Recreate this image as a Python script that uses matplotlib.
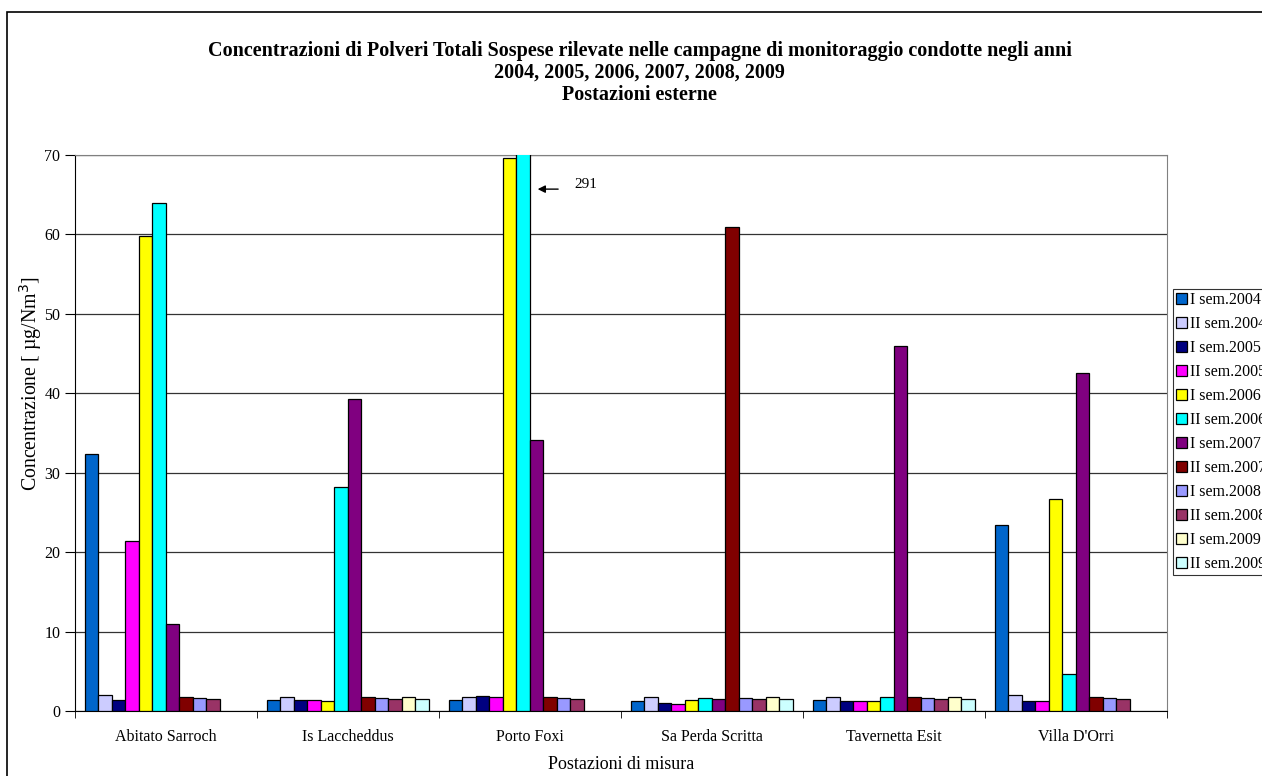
import numpy as np
import matplotlib
matplotlib.use("Agg")
from matplotlib import pyplot as plt
from matplotlib.patches import Rectangle

plt.rcParams['font.family'] = ['Liberation Serif', 'DejaVu Serif']

postazioni = ["Abitato Sarroch", "Is Laccheddus", "Porto Foxi",
              "Sa Perda Scritta", "Tavernetta Esit", "Villa D'Orri"]

campagne = ["I sem.2004", "II sem.2004", "I sem.2005", "II sem.2005",
            "I sem.2006", "II sem.2006", "I sem.2007", "II sem.2007",
            "I sem.2008", "II sem.2008", "I sem.2009", "II sem.2009"]

colori = ["#0066CC", "#CCCCFF", "#000080", "#FF00FF", "#FFFF00", "#00FFFF",
          "#800080", "#800000", "#9999FF", "#993366", "#FFFFCC", "#CCFFFF"]

nan = np.nan
# one list per campaign, values per station (ug/Nm3)
sem1_2004 = [32.4, 1.4, 1.4, 1.2, 1.4, 23.4]
sem2_2004 = [2.0, 1.8, 1.8, 1.8, 1.8, 2.0]
sem1_2005 = [1.4, 1.4, 1.9, 1.0, 1.2, 1.2]
sem2_2005 = [21.4, 1.4, 1.8, 0.9, 1.2, 1.2]
sem1_2006 = [59.8, 1.2, 69.6, 1.4, 1.2, 26.7]
sem2_2006 = [63.9, 28.2, 291, 1.6, 1.7, 4.7]
sem1_2007 = [10.9, 39.3, 34.1, 1.5, 46.0, 42.6]
sem2_2007 = [1.7, 1.7, 1.7, 60.9, 1.8, 1.8]
sem1_2008 = [1.6, 1.6, 1.6, 1.6, 1.6, 1.6]
sem2_2008 = [1.5, 1.5, 1.5, 1.5, 1.5, 1.5]
sem1_2009 = [nan, 1.8, nan, 1.8, 1.8, nan]
sem2_2009 = [nan, 1.5, nan, 1.5, 1.5, nan]

serie = [sem1_2004, sem2_2004, sem1_2005, sem2_2005, sem1_2006, sem2_2006,
         sem1_2007, sem2_2007, sem1_2008, sem2_2008, sem1_2009, sem2_2009]

fig = plt.figure(figsize=(12.62, 7.76), dpi=100)
ax = fig.add_axes([0.0594, 0.0838, 0.8653, 0.7165])

x = np.arange(len(postazioni))
w = 0.89 / len(serie)
for i, valori in enumerate(serie):
    off = (i - (len(serie) - 1) / 2) * w
    ax.bar(x + off, valori, w, color=colori[i], edgecolor='black',
           linewidth=0.9, label=campagne[i], zorder=3)

ax.set_xlim(-0.5, len(postazioni) - 0.5)
ax.set_ylim(0, 70)
ax.set_yticks(range(0, 71, 10))
ax.yaxis.grid(True, color='#333333', linewidth=0.9, zorder=0)
ax.set_xticks(x)
ax.set_xticklabels(postazioni, fontsize=11.5)
ax.tick_params(axis='x', length=0, pad=13)
ax.set_xticks(np.arange(-0.5, len(postazioni)), minor=True)
ax.tick_params(axis='x', which='minor', length=5, direction='out')
ax.tick_params(axis='y', labelsize=11.5, length=7, direction='out')

for s in ['top', 'right']:
    ax.spines[s].set_color('#808080')
for s in ['left', 'bottom']:
    ax.spines[s].set_color('black')

ax.set_ylabel("Concentrazione [ \u00b5g/Nm$^3$]", fontsize=14.3)
ax.yaxis.set_label_coords(-0.0284, 0.588)
ax.set_xlabel("Postazioni di misura", fontsize=13, labelpad=8)

# Porto Foxi, II sem.2006 goes off scale: show its value with an arrow
i_pf = postazioni.index("Porto Foxi")
v_pf = sem2_2006[i_pf]
ax.annotate('', xy=(i_pf + 0.027, 65.7), xytext=(i_pf + 0.17, 65.7),
            arrowprops=dict(arrowstyle='-|>', color='black', lw=1.0,
                            mutation_scale=11))
ax.text(i_pf + 0.245, 66.3, f"{v_pf:g}", fontsize=11, va='center')

fig.text(0.507, 0.906,
         "Concentrazioni di Polveri Totali Sospese rilevate nelle campagne di monitoraggio condotte negli anni\n"
         "2004, 2005, 2006, 2007, 2008, 2009\nPostazioni esterne",
         ha='center', va='center', fontsize=14.5, fontweight='bold', linespacing=1.15)

leg = fig.legend(loc='upper left', bbox_to_anchor=(1173 / 1262, 1 - 289 / 776),
                 fontsize=11.5, frameon=True, fancybox=False, edgecolor='black',
                 handlelength=0.65, handleheight=0.65, handletextpad=0.2,
                 labelspacing=0.5, borderpad=0.2, borderaxespad=0)
leg.get_frame().set_linewidth(0.8)

# outer frame of the chart area (runs past the right and bottom edges)
fig.patches.append(Rectangle((7 / 1262, -0.02), 1.02, 1.02 - 12 / 776,
                             transform=fig.transFigure, fill=False,
                             edgecolor='black', linewidth=1.2, clip_on=False))

fig.savefig("out.png", dpi=100)
